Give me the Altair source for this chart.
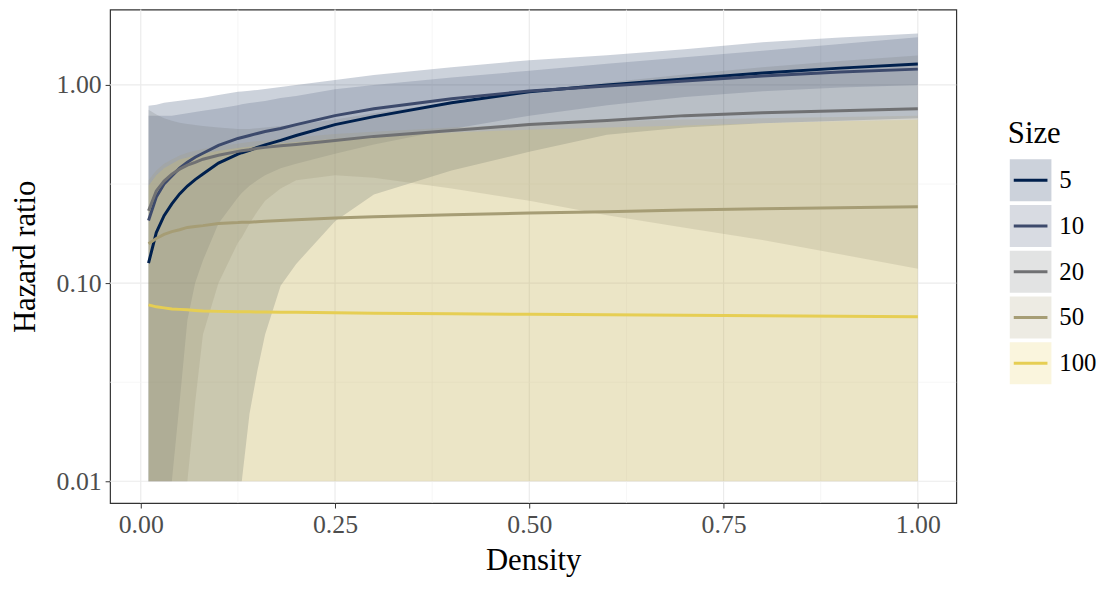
import altair as alt
import pandas as pd

# ---------------- data ----------------
X = [0.01, 0.02, 0.03, 0.04, 0.05, 0.06, 0.07, 0.08, 0.10, 0.125, 0.13, 0.14, 0.15,
     0.16, 0.18, 0.2, 0.25, 0.3, 0.4, 0.5, 0.6, 0.7, 0.8, 0.9, 1.0]

SIZES = ["5", "10", "20", "50", "100"]
COLORS = ["#00204D", "#3D4A6C", "#707173", "#A69D75", "#E6CE53"]

HR_5 = [0.126, 0.180, 0.219, 0.251, 0.282, 0.309, 0.333, 0.355, 0.403, 0.447, 0.455, 0.468, 0.484,
        0.498, 0.525, 0.556, 0.631, 0.692, 0.813, 0.923, 1.0, 1.072, 1.148, 1.216, 1.274]
LO_5 = [0.01, 0.01, 0.01, 0.01, 0.01, 0.01, 0.01, 0.01, 0.01, 0.01, 0.01, 0.022, 0.036,
        0.055, 0.097, 0.125, 0.205, 0.28, 0.37, 0.46, 0.56, 0.61, 0.64, 0.66, 0.68]
HI_5 = [0.785, 0.794, 0.813, 0.822, 0.832, 0.841, 0.851, 0.861, 0.891, 0.923, 0.928, 0.936, 0.944,
        0.955, 0.977, 1.0, 1.059, 1.122, 1.230, 1.334, 1.413, 1.514, 1.641, 1.738, 1.820]

HR_10 = [0.207, 0.272, 0.316, 0.347, 0.380, 0.407, 0.432, 0.452, 0.495, 0.537, 0.543, 0.556, 0.569,
         0.582, 0.603, 0.631, 0.700, 0.759, 0.851, 0.933, 0.989, 1.047, 1.109, 1.161, 1.202]
LO_10 = [0.01, 0.01, 0.01, 0.01, 0.025, 0.065, 0.10, 0.13, 0.20, 0.27, 0.285, 0.31, 0.33,
         0.35, 0.38, 0.40, 0.45, 0.50, 0.60, 0.70, 0.79, 0.87, 0.93, 0.97, 1.0]
HI_10 = [0.70, 0.70, 0.70, 0.70, 0.71, 0.72, 0.73, 0.74, 0.76, 0.79, 0.80, 0.81, 0.82,
         0.83, 0.86, 0.88, 0.95, 1.0, 1.09, 1.18, 1.28, 1.38, 1.49, 1.61, 1.74]

HR_20 = [0.232, 0.292, 0.327, 0.355, 0.376, 0.394, 0.407, 0.422, 0.442, 0.462, 0.465, 0.471, 0.479,
         0.484, 0.493, 0.501, 0.525, 0.550, 0.589, 0.631, 0.661, 0.700, 0.724, 0.741, 0.759]
LO_20 = [0.01, 0.01, 0.01, 0.01, 0.01, 0.01, 0.025, 0.055, 0.10, 0.16, 0.17, 0.20, 0.23,
         0.26, 0.30, 0.33, 0.35, 0.34, 0.30, 0.26, 0.22, 0.19, 0.165, 0.14, 0.118]
HI_20 = [0.75, 0.71, 0.68, 0.66, 0.645, 0.635, 0.627, 0.62, 0.61, 0.60, 0.60, 0.60, 0.605,
         0.61, 0.62, 0.63, 0.67, 0.72, 0.82, 0.93, 1.03, 1.13, 1.23, 1.32, 1.41]

HR_50 = [0.158, 0.168, 0.176, 0.182, 0.186, 0.191, 0.193, 0.195, 0.200, 0.202, 0.203, 0.203, 0.204,
         0.205, 0.207, 0.209, 0.213, 0.216, 0.221, 0.226, 0.229, 0.234, 0.237, 0.240, 0.243]
LO_50 = [0.01] * 25
HI_50 = [0.33, 0.37, 0.40, 0.42, 0.44, 0.455, 0.465, 0.475, 0.49, 0.505, 0.51, 0.515, 0.52,
         0.525, 0.535, 0.545, 0.565, 0.58, 0.61, 0.635, 0.655, 0.67, 0.68, 0.69, 0.70]

HR_100 = [0.0776, 0.0759, 0.0750, 0.0741, 0.0737, 0.0733, 0.0728, 0.0724, 0.0720, 0.0716, 0.0716,
          0.0716, 0.0715, 0.0714, 0.0713, 0.0712, 0.0708, 0.0704, 0.0700, 0.0696, 0.0692, 0.0688,
          0.0684, 0.0680, 0.0676]
LO_100 = [0.01] * 25
HI_100 = [0.31, 0.35, 0.38, 0.40, 0.42, 0.43, 0.44, 0.45, 0.465, 0.48, 0.483, 0.488, 0.493,
          0.498, 0.507, 0.515, 0.535, 0.55, 0.575, 0.595, 0.61, 0.625, 0.64, 0.655, 0.668]

X_MAJOR = [0.0, 0.25, 0.5, 0.75, 1.0]
X_MINOR = [0.125, 0.375, 0.625, 0.875]
Y_MAJOR = [0.01, 0.1, 1.0]
Y_MINOR = [0.0316, 0.316]

# ---------------- tables ----------------
series = [(SIZES[0], HR_5, LO_5, HI_5), (SIZES[1], HR_10, LO_10, HI_10),
          (SIZES[2], HR_20, LO_20, HI_20), (SIZES[3], HR_50, LO_50, HI_50),
          (SIZES[4], HR_100, LO_100, HI_100)]
rows = []
for k, (s, hr, lo, hi) in enumerate(series):
    for x, h, l, u in zip(X, hr, lo, hi):
        rows.append({"Size": s, "k": k, "Density": x, "HR": h, "lo": l, "hi": u})
df = pd.DataFrame(rows)

FONT = "Liberation Serif"

xscale = alt.Scale(domain=[-0.0395, 1.0495], nice=False, zero=False)
yscale = alt.Scale(type="log", domain=[0.00776, 2.40], nice=False)
cscale = alt.Scale(domain=SIZES, range=COLORS)

xaxis = alt.Axis(values=X_MAJOR, format=".2f", grid=False, domain=False, tickColor="#333333",
                 tickSize=5, tickWidth=1, labelFont=FONT, labelFontSize=26, labelColor="#4D4D4D",
                 labelPadding=4, title="Density", titleFont=FONT, titleFontSize=31,
                 titleFontWeight="normal", titleColor="black", titlePadding=8)
yaxis = alt.Axis(values=Y_MAJOR, format=".2f", grid=False, domain=False, tickColor="#333333",
                 tickSize=5, tickWidth=1, labelFont=FONT, labelFontSize=26, labelColor="#4D4D4D",
                 labelPadding=4, title="Hazard ratio", titleFont=FONT, titleFontSize=31,
                 titleFontWeight="normal", titleColor="black", titlePadding=15)

gx_major = alt.Chart(pd.DataFrame({"Density": X_MAJOR})).mark_rule(
    color="#EBEBEB", strokeWidth=1.2).encode(x=alt.X("Density:Q", scale=xscale, axis=xaxis))
gx_minor = alt.Chart(pd.DataFrame({"Density": X_MINOR})).mark_rule(
    color="#F2F2F2", strokeWidth=0.7).encode(x=alt.X("Density:Q", scale=xscale))
gy_major = alt.Chart(pd.DataFrame({"lo": Y_MAJOR})).mark_rule(
    color="#EBEBEB", strokeWidth=1.2).encode(y=alt.Y("lo:Q", scale=yscale, axis=yaxis))
gy_minor = alt.Chart(pd.DataFrame({"lo": Y_MINOR})).mark_rule(
    color="#F2F2F2", strokeWidth=0.7).encode(y=alt.Y("lo:Q", scale=yscale))

ribbons = alt.Chart(df).mark_area(fillOpacity=0.2, clip=True).encode(
    x=alt.X("Density:Q", scale=xscale, axis=xaxis),
    y=alt.Y("lo:Q", scale=yscale, axis=yaxis, stack=None),
    y2="hi:Q",
    fill=alt.Fill("Size:N", scale=cscale, legend=None),
    detail="Size:N",
    order=alt.Order("k:Q"),
)
lines = alt.Chart(df).mark_line(strokeWidth=3, clip=True).encode(
    x=alt.X("Density:Q", scale=xscale),
    y=alt.Y("HR:Q", scale=yscale),
    stroke=alt.Stroke("Size:N", scale=cscale, legend=None),
    detail="Size:N",
)

main = alt.layer(gx_major, gy_major, gx_minor, gy_minor, ribbons, lines).properties(
    width=854, height=498,
    view=alt.ViewBackground(stroke="#333333", strokeWidth=1.2),
)

# ---------------- legend panel ----------------
LEG_ROWS = ["Size"] + SIZES
leg_y = alt.Scale(domain=LEG_ROWS, range=[103, 380], paddingInner=0.08, paddingOuter=0.04)
leg_df = pd.DataFrame({"Size": SIZES, "label": SIZES})
title_df = pd.DataFrame({"Size": ["Size"], "label": ["Size"]})
lcscale = alt.Scale(domain=SIZES, range=COLORS)

keys = alt.Chart(leg_df).mark_rect(fillOpacity=0.2).encode(
    y=alt.Y("Size:N", scale=leg_y, axis=None),
    x=alt.value(2), x2=alt.value(44),
    fill=alt.Fill("Size:N", scale=lcscale, legend=None),
)
key_lines = alt.Chart(leg_df).mark_rule(strokeWidth=3).encode(
    y=alt.Y("Size:N", scale=leg_y, axis=None, bandPosition=0.5),
    x=alt.value(6), x2=alt.value(40),
    stroke=alt.Stroke("Size:N", scale=lcscale, legend=None),
)
key_text = alt.Chart(leg_df).mark_text(align="left", baseline="middle", font=FONT, fontSize=25,
                                        color="black").encode(
    y=alt.Y("Size:N", scale=leg_y, axis=None, bandPosition=0.5),
    x=alt.value(52), text="label:N",
)
leg_title = alt.Chart(title_df).mark_text(align="left", baseline="middle", font=FONT, fontSize=31,
                                           color="black").encode(
    y=alt.Y("Size:N", scale=leg_y, axis=None, bandPosition=0.5),
    x=alt.value(0), text="label:N",
)
legend = alt.layer(keys, key_lines, key_text, leg_title).properties(
    width=86, height=498, view=alt.ViewBackground(stroke="transparent"))

chart = alt.hconcat(main, legend, spacing=49).resolve_scale(
    x="independent", y="independent", fill="independent", stroke="independent"
).properties(
    padding={"left": 0, "top": -3, "right": 0, "bottom": 0},
    background="white",
).configure_view(stroke="transparent")

chart.save("out.html", embed_options={"renderer": "svg", "actions": False})
